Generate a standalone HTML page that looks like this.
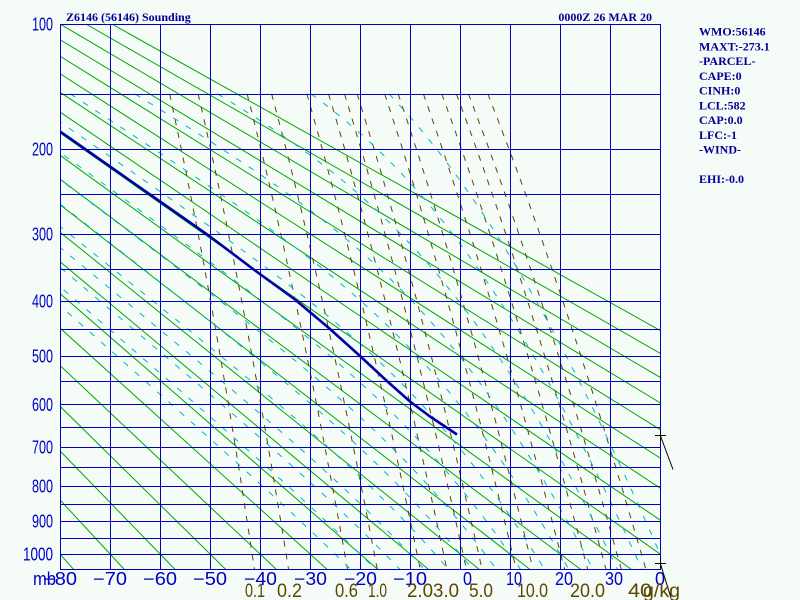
<!DOCTYPE html>
<html><head><meta charset="utf-8">
<style>
html,body{margin:0;padding:0;background:#f5fbf7;}
svg{display:block}
.t{font-family:"Liberation Serif",serif;font-weight:bold;font-size:12px;fill:#000094}
.a{font-family:"Liberation Sans",sans-serif;font-size:18px;fill:#0000c8}
.m{font-family:"Liberation Sans",sans-serif;font-size:19px;fill:#5a4800}
</style></head><body>
<svg width="800" height="600" viewBox="0 0 800 600" xmlns="http://www.w3.org/2000/svg">
<rect width="800" height="600" fill="#f5fbf7"/>
<defs><clipPath id="c"><rect x="60" y="24" width="601" height="546"/></clipPath></defs>

<!-- dry adiabats -->
<g clip-path="url(#c)" stroke="#00a800" stroke-width="1" fill="none">
<line x1="-405.85" y1="24" x2="73.57" y2="569.4"/>
<line x1="-379.97" y1="24" x2="124.27" y2="569.4"/>
<line x1="-354.09" y1="24" x2="174.98" y2="569.4"/>
<line x1="-328.21" y1="24" x2="225.68" y2="569.4"/>
<line x1="-302.32" y1="24" x2="276.38" y2="569.4"/>
<line x1="-276.44" y1="24" x2="327.08" y2="569.4"/>
<line x1="-250.56" y1="24" x2="377.79" y2="569.4"/>
<line x1="-224.68" y1="24" x2="428.49" y2="569.4"/>
<line x1="-198.80" y1="24" x2="479.19" y2="569.4"/>
<line x1="-172.92" y1="24" x2="529.89" y2="569.4"/>
<line x1="-147.04" y1="24" x2="580.60" y2="569.4"/>
<line x1="-121.15" y1="24" x2="631.30" y2="569.4"/>
<line x1="-95.27" y1="24" x2="682.00" y2="569.4"/>
<line x1="-69.39" y1="24" x2="732.70" y2="569.4"/>
<line x1="-43.51" y1="24" x2="783.41" y2="569.4"/>
<line x1="-17.63" y1="24" x2="834.11" y2="569.4"/>
<line x1="8.25" y1="24" x2="884.81" y2="569.4"/>
<line x1="34.13" y1="24" x2="935.52" y2="569.4"/>
<line x1="60.02" y1="24" x2="986.22" y2="569.4"/>
<line x1="85.90" y1="24" x2="1036.92" y2="569.4"/>
<line x1="111.78" y1="24" x2="1087.62" y2="569.4"/>
</g>

<g id="mix" clip-path="url(#c)" stroke="#5a4800" stroke-width="1" stroke-dasharray="6 7" fill="none"></g>
<g id="moist" clip-path="url(#c)" stroke="#00b4c8" stroke-width="1" stroke-dasharray="6 9" fill="none"></g>

<!-- grid -->
<g stroke="#0000c0" stroke-width="1" shape-rendering="crispEdges">
<line x1="60" y1="24.5" x2="661" y2="24.5"/>
<line x1="60" y1="94.5" x2="661" y2="94.5"/>
<line x1="60" y1="149.5" x2="661" y2="149.5"/>
<line x1="60" y1="194.5" x2="661" y2="194.5"/>
<line x1="60" y1="234.5" x2="661" y2="234.5"/>
<line x1="60" y1="269.5" x2="661" y2="269.5"/>
<line x1="60" y1="301.5" x2="661" y2="301.5"/>
<line x1="60" y1="329.5" x2="661" y2="329.5"/>
<line x1="60" y1="356.5" x2="661" y2="356.5"/>
<line x1="60" y1="381.5" x2="661" y2="381.5"/>
<line x1="60" y1="404.5" x2="661" y2="404.5"/>
<line x1="60" y1="427.5" x2="661" y2="427.5"/>
<line x1="60" y1="447.5" x2="661" y2="447.5"/>
<line x1="60" y1="467.5" x2="661" y2="467.5"/>
<line x1="60" y1="486.5" x2="661" y2="486.5"/>
<line x1="60" y1="504.5" x2="661" y2="504.5"/>
<line x1="60" y1="521.5" x2="661" y2="521.5"/>
<line x1="60" y1="538.5" x2="661" y2="538.5"/>
<line x1="60" y1="554.5" x2="661" y2="554.5"/>
<line x1="60" y1="569.5" x2="661" y2="569.5"/>
<line x1="60.5" y1="24" x2="60.5" y2="570"/>
<line x1="110.5" y1="24" x2="110.5" y2="570"/>
<line x1="160.5" y1="24" x2="160.5" y2="570"/>
<line x1="210.5" y1="24" x2="210.5" y2="570"/>
<line x1="260.5" y1="24" x2="260.5" y2="570"/>
<line x1="310.5" y1="24" x2="310.5" y2="570"/>
<line x1="360.5" y1="24" x2="360.5" y2="570"/>
<line x1="410.5" y1="24" x2="410.5" y2="570"/>
<line x1="460.5" y1="24" x2="460.5" y2="570"/>
<line x1="510.5" y1="24" x2="510.5" y2="570"/>
<line x1="560.5" y1="24" x2="560.5" y2="570"/>
<line x1="610.5" y1="24" x2="610.5" y2="570"/>
<line x1="660.5" y1="24" x2="660.5" y2="570"/>
</g>

<!-- sounding -->
<polyline clip-path="url(#c)" fill="none" stroke="#0000a8" stroke-width="2.6" stroke-linejoin="round"
 points="58,130.1 60,131.5 110,166.5 160,201.5 210,236.5 255,270.5 295,299.5 330,329 360,356 388,382 410,401.5 430,416.5 445,426.5 457,434.5"/>

<!-- wind marks -->
<g stroke="#000" stroke-width="1" fill="none">
<line x1="655" y1="435.5" x2="666" y2="435.5" shape-rendering="crispEdges"/>
<line x1="660.5" y1="431" x2="660.5" y2="441" shape-rendering="crispEdges"/>
<line x1="660.5" y1="436" x2="673" y2="469.5"/>
<line x1="655" y1="563.5" x2="666" y2="563.5" shape-rendering="crispEdges"/>
<line x1="660.5" y1="558" x2="660.5" y2="568" shape-rendering="crispEdges"/>
<line x1="660.5" y1="564" x2="671" y2="598"/>
</g>

<!-- titles -->
<text class="t" x="66" y="21">Z6146 (56146) Sounding</text>
<text class="t" x="652" y="21" text-anchor="end">0000Z 26 MAR 20</text>

<!-- right panel -->
<text class="t" x="699" y="35.5">WMO:56146</text>
<text class="t" x="699" y="50.25">MAXT:-273.1</text>
<text class="t" x="699" y="65">-PARCEL-</text>
<text class="t" x="699" y="79.75">CAPE:0</text>
<text class="t" x="699" y="94.5">CINH:0</text>
<text class="t" x="699" y="109.25">LCL:582</text>
<text class="t" x="699" y="124">CAP:0.0</text>
<text class="t" x="699" y="138.75">LFC:-1</text>
<text class="t" x="699" y="153.5">-WIND-</text>
<text class="t" x="699" y="183">EHI:-0.0</text>

<!-- pressure labels -->
<text class="a" x="32" y="30.5" textLength="21" lengthAdjust="spacingAndGlyphs">100</text>
<text class="a" x="32" y="155.5" textLength="21" lengthAdjust="spacingAndGlyphs">200</text>
<text class="a" x="32" y="240.5" textLength="21" lengthAdjust="spacingAndGlyphs">300</text>
<text class="a" x="32" y="307.5" textLength="21" lengthAdjust="spacingAndGlyphs">400</text>
<text class="a" x="32" y="362.5" textLength="21" lengthAdjust="spacingAndGlyphs">500</text>
<text class="a" x="32" y="411" textLength="21" lengthAdjust="spacingAndGlyphs">600</text>
<text class="a" x="32" y="453.5" textLength="21" lengthAdjust="spacingAndGlyphs">700</text>
<text class="a" x="32" y="492.5" textLength="21" lengthAdjust="spacingAndGlyphs">800</text>
<text class="a" x="32" y="527.5" textLength="21" lengthAdjust="spacingAndGlyphs">900</text>
<text class="a" x="23" y="560.5" textLength="30" lengthAdjust="spacingAndGlyphs">1000</text>

<!-- temperature labels -->
<text class="a" x="33" y="585" textLength="23" lengthAdjust="spacingAndGlyphs">mb</text>
<text class="a" x="43" y="585" textLength="34" lengthAdjust="spacingAndGlyphs">−80</text>
<text class="a" x="93" y="585" textLength="34" lengthAdjust="spacingAndGlyphs">−70</text>
<text class="a" x="143" y="585" textLength="34" lengthAdjust="spacingAndGlyphs">−60</text>
<text class="a" x="193" y="585" textLength="34" lengthAdjust="spacingAndGlyphs">−50</text>
<text class="a" x="244" y="585" textLength="33" lengthAdjust="spacingAndGlyphs">−40</text>
<text class="a" x="294" y="585" textLength="33" lengthAdjust="spacingAndGlyphs">−30</text>
<text class="a" x="344" y="585" textLength="33" lengthAdjust="spacingAndGlyphs">−20</text>
<text class="a" x="393" y="585" textLength="34" lengthAdjust="spacingAndGlyphs">−10</text>
<text class="a" x="463" y="585" textLength="9" lengthAdjust="spacingAndGlyphs">0</text>
<text class="a" x="506" y="585" textLength="16" lengthAdjust="spacingAndGlyphs">10</text>
<text class="a" x="555" y="585" textLength="18" lengthAdjust="spacingAndGlyphs">20</text>
<text class="a" x="605" y="585" textLength="18" lengthAdjust="spacingAndGlyphs">30</text>
<text class="a" x="655" y="585" textLength="10" lengthAdjust="spacingAndGlyphs">0</text>

<!-- mixing ratio labels -->
<text class="m" x="245" y="597" textLength="20" lengthAdjust="spacingAndGlyphs">0.1</text>
<text class="m" x="277" y="597" textLength="25" lengthAdjust="spacingAndGlyphs">0.2</text>
<text class="m" x="335" y="597" textLength="23" lengthAdjust="spacingAndGlyphs">0.6</text>
<text class="m" x="368" y="597" textLength="19" lengthAdjust="spacingAndGlyphs">1.0</text>
<text class="m" x="407" y="597" textLength="26" lengthAdjust="spacingAndGlyphs">2.0</text>
<text class="m" x="433" y="597" textLength="26" lengthAdjust="spacingAndGlyphs">3.0</text>
<text class="m" x="469" y="597" textLength="24" lengthAdjust="spacingAndGlyphs">5.0</text>
<text class="m" x="517" y="597" textLength="31" lengthAdjust="spacingAndGlyphs">10.0</text>
<text class="m" x="570" y="597" textLength="35" lengthAdjust="spacingAndGlyphs">20.0</text>
<text class="m" x="628" y="597" textLength="24" lengthAdjust="spacingAndGlyphs">40</text>
<text class="m" x="643" y="597" textLength="37" lengthAdjust="spacingAndGlyphs">g/kg</text>
</svg>
<script>
(function(){
var K=0.286,a=Math.pow(100,K),b=Math.pow(1000,K);
function X(T){return 60+(T+80)*5;}
function Y(p){return 24+(Math.pow(p,K)-a)/(b-a)*530;}
var NS="http://www.w3.org/2000/svg";
function pl(g,pts){var e=document.createElementNS(NS,"polyline");
 e.setAttribute("points",pts.map(function(q){return q[0].toFixed(1)+","+q[1].toFixed(1);}).join(" "));
 g.appendChild(e);}
var mg=document.getElementById("mix");
[0.1,0.2,0.6,1,2,3,4,5,8,10,15,20,25,30,40].forEach(function(w){
 var pts=[];
 for(var p=150;p<=1050;p+=10){var e=w*p/(622+w);var l=Math.log(e/6.112);var T=243.5*l/(17.67-l);pts.push([X(T),Y(p)]);}
 pl(mg,pts);
});
function es(T){var c=T-273.15;return 6.112*Math.exp(17.67*c/(c+243.5));}
function dTdp(T,p){var e=es(T);var rs=0.622*e/(p-e);var Rd=287.04,cp=1005.7,L=2.501e6;
 return (Rd*T+L*rs)/(p*(cp+L*L*rs*0.622/(Rd*T*T)));}
function integ(T,p0,p1,dp){var out=[];var p=p0;
 while((dp<0&&p>p1+1e-6)||(dp>0&&p<p1-1e-6)){var k1=dTdp(T,p);var k2=dTdp(T+k1*dp/2,p+dp/2);T+=k2*dp;p+=dp;out.push([T,p]);}
 return out;}
var cg=document.getElementById("moist");
for(var tw=-25;tw<=40;tw+=5){
 var T0=tw+273.15;
 var up=integ(T0,1000,150,-5).reverse();
 var dn=integ(T0,1000,1050,5);
 var all=up.concat([[T0,1000]]).concat(dn);
 pl(cg,all.map(function(q){return [X(q[0]-273.15),Y(q[1])];}));
}
})();
</script>
</body></html>
